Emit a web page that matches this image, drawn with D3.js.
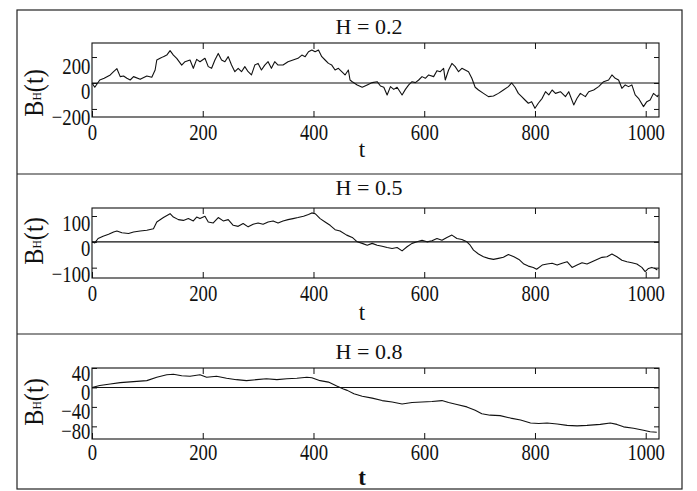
<!DOCTYPE html>
<html>
<head>
<meta charset="utf-8">
<script src="https://cdn.jsdelivr.net/npm/d3@7"></script>
<style>
  body { margin: 0; background: #fff; }
  text { font-family: "Liberation Serif", "Times New Roman", serif; fill: #111; }
</style>
</head>
<body>
<svg id="chart" width="697" height="491"></svg>
<script>
// ===== data =====
const xTicks = [0, 200, 400, 600, 800, 1000];
const titles = ['H = 0.2', 'H = 0.5', 'H = 0.8'];

// H = 0.2  [t, B_H(t)]
const seriesH02 = [[0,0],[5,-33],[14,23],[22,36],[33,62],[39,87],[45,110],[51,49],[57,54],[63,36],[69,23],[75,49],[87,28],[99,54],[108,44],[114,100],[117,177],[123,190],[129,203],[135,215],[141,249],[147,215],[153,190],[162,138],[168,164],[177,177],[183,113],[189,182],[195,164],[204,190],[210,126],[216,113],[222,177],[228,228],[234,177],[240,164],[246,203],[252,138],[258,87],[264,113],[270,87],[276,126],[282,87],[288,62],[294,138],[300,151],[306,100],[312,138],[318,164],[324,113],[330,164],[336,138],[345,138],[354,164],[363,177],[372,190],[379,215],[385,203],[391,241],[397,254],[403,241],[409,254],[415,203],[421,177],[427,151],[433,138],[439,100],[445,113],[451,87],[457,62],[463,100],[466,23],[470,10],[479,-15],[488,-33],[497,-15],[506,3],[515,10],[521,-23],[527,-33],[533,-92],[539,-28],[545,-49],[551,-33],[560,-92],[566,-49],[572,-15],[578,10],[584,3],[590,23],[596,49],[602,36],[608,62],[617,49],[623,95],[629,87],[635,113],[638,23],[644,100],[650,151],[656,126],[662,87],[668,113],[674,100],[680,87],[686,36],[692,-33],[698,-54],[707,-80],[716,-105],[725,-100],[734,-80],[743,-54],[752,-28],[758,0],[764,-33],[770,-80],[776,-105],[782,-131],[788,-156],[794,-144],[800,-195],[806,-156],[813,-118],[819,-67],[825,-92],[831,-54],[837,-80],[846,-67],[855,-105],[861,-67],[870,-169],[876,-118],[882,-80],[891,-105],[897,-67],[906,-54],[915,-28],[924,10],[933,23],[939,62],[945,36],[951,23],[957,-41],[963,-15],[969,-28],[975,-15],[981,-92],[987,-118],[996,-182],[1002,-144],[1008,-131],[1014,-80],[1021,-105],[1023,-90]];

// H = 0.5
const seriesH05 = [[0,0],[5,-4],[11,13],[20,22],[30,29],[39,38],[45,42],[54,35],[66,32],[75,38],[87,42],[99,45],[111,51],[117,77],[129,94],[141,109],[147,96],[156,86],[165,83],[174,90],[183,81],[189,96],[195,90],[204,99],[210,77],[219,73],[228,94],[237,81],[246,86],[255,64],[264,60],[273,71],[282,58],[291,68],[300,73],[309,68],[318,77],[327,81],[336,73],[345,81],[354,86],[363,90],[372,94],[382,99],[391,106],[397,112],[403,109],[412,90],[421,77],[430,64],[439,47],[448,42],[460,26],[470,17],[479,0],[488,-6],[497,-13],[506,-6],[515,-13],[524,-17],[533,-22],[542,-26],[551,-22],[560,-35],[569,-19],[578,-6],[587,0],[596,6],[605,0],[614,4],[623,13],[632,6],[641,17],[650,26],[659,13],[668,9],[677,0],[683,-13],[689,-32],[698,-47],[707,-58],[716,-64],[725,-68],[734,-64],[743,-60],[752,-49],[762,-58],[771,-68],[780,-86],[788,-94],[797,-99],[803,-106],[813,-90],[822,-86],[831,-83],[840,-90],[849,-83],[858,-77],[867,-99],[876,-90],[885,-81],[894,-86],[903,-77],[912,-68],[921,-60],[930,-58],[939,-47],[948,-58],[957,-71],[966,-77],[975,-81],[984,-86],[993,-99],[999,-115],[1005,-103],[1011,-99],[1017,-103],[1021,-109]];

// H = 0.8
const seriesH08 = [[0,0],[14,4],[33,7],[51,10],[75,12],[99,14],[117,21],[135,26],[147,27],[162,24],[177,23],[195,26],[207,21],[225,23],[243,19],[261,16],[279,14],[297,16],[315,18],[334,16],[352,18],[370,19],[388,21],[397,20],[412,14],[427,11],[442,3],[454,-3],[461,-6],[473,-13],[488,-18],[506,-22],[524,-27],[542,-30],[560,-34],[578,-31],[596,-30],[614,-29],[632,-27],[644,-31],[659,-35],[677,-40],[692,-47],[704,-54],[719,-57],[737,-58],[756,-63],[774,-67],[792,-73],[807,-74],[822,-73],[840,-75],[858,-78],[876,-79],[894,-78],[918,-76],[936,-73],[948,-76],[960,-81],[978,-84],[996,-88],[1008,-91],[1020,-92]];

const yTicksH02 = [-200, 0, 200];
const yTicksH05 = [-100, 0, 100];
const yTicksH08 = [-80, -40, 0, 40];

// ===== layout =====
const svg = d3.select('#chart');
const plotLeft = 92, plotRight = 659;
const squeeze = 'scale(0.78,1)';
const ink = '#111';

const panels = [
  { title: titles[0], data: seriesH02, yTicks: yTicksH02, yDomain: [-262, 308],
    top: 43, bottom: 117, titleY: 34, labelY: 93, tY: 157, yLabDy: 16, xPad: 6, tBold: false },
  { title: titles[1], data: seriesH05, yTicks: yTicksH05, yDomain: [-140, 131],
    top: 208, bottom: 278, titleY: 195, labelY: 241, tY: 320, yLabDy: 14, xPad: 6, tBold: false },
  { title: titles[2], data: seriesH08, yTicks: yTicksH08, yDomain: [-106, 40],
    top: 368, bottom: 439, titleY: 359, labelY: 402, tY: 485, yLabDy: 12, xPad: 4, tBold: true }
];

// outer frame and dividers
svg.append('rect')
  .attr('x', 17).attr('y', 10).attr('width', 665).attr('height', 479)
  .attr('fill', 'none').attr('stroke', '#222').attr('stroke-width', 1.2);
[174, 334].forEach(yy => {
  svg.append('line')
    .attr('x1', 17).attr('x2', 682).attr('y1', yy).attr('y2', yy)
    .attr('stroke', '#222').attr('stroke-width', 1.2);
});

const x = d3.scaleLinear().domain([0, 1024]).range([plotLeft, plotRight]);

panels.forEach(p => {
  const y = d3.scaleLinear().domain(p.yDomain).range([p.bottom, p.top]);
  const g = svg.append('g');

  // title
  g.append('text')
    .attr('x', 369).attr('y', p.titleY)
    .attr('text-anchor', 'middle')
    .attr('font-size', 22)
    .text(p.title);

  // zero line
  g.append('line')
    .attr('x1', plotLeft).attr('x2', plotRight)
    .attr('y1', y(0)).attr('y2', y(0))
    .attr('stroke', ink).attr('stroke-width', 1.1);

  // curve
  const line = d3.line().x(d => x(d[0])).y(d => y(d[1]));
  g.append('path')
    .datum(p.data)
    .attr('d', line)
    .attr('fill', 'none')
    .attr('stroke', ink)
    .attr('stroke-width', 1.1)
    .attr('stroke-linejoin', 'round');

  // frame
  g.append('rect')
    .attr('x', plotLeft).attr('y', p.top)
    .attr('width', plotRight - plotLeft).attr('height', p.bottom - p.top)
    .attr('fill', 'none').attr('stroke', ink).attr('stroke-width', 1.1);

  // bottom axis, ticks pointing inward
  const xb = g.append('g')
    .attr('transform', `translate(0,${p.bottom})`)
    .call(d3.axisBottom(x).tickValues(xTicks).tickSize(-6).tickPadding(p.xPad).tickFormat(d3.format('d')));
  xb.select('.domain').remove();
  xb.selectAll('text').attr('font-size', 24).attr('font-family', '"Liberation Serif", serif').attr('fill', ink)
    .attr('transform', squeeze);
  xb.selectAll('line').attr('stroke', ink);

  // top axis ticks
  const xt = g.append('g')
    .attr('transform', `translate(0,${p.top})`)
    .call(d3.axisTop(x).tickValues(xTicks.slice(1)).tickSize(-6).tickFormat(''));
  xt.select('.domain').remove();
  xt.selectAll('line').attr('stroke', ink);

  // left axis
  const yl = g.append('g')
    .attr('transform', `translate(${plotLeft},0)`)
    .call(d3.axisLeft(y).tickValues(p.yTicks).tickSize(-5).tickPadding(2).tickFormat(d3.format('d')));
  yl.select('.domain').remove();
  yl.selectAll('text').attr('font-size', 24).attr('font-family', '"Liberation Serif", serif').attr('fill', ink)
    .attr('dy', p.yLabDy + 'px').attr('transform', squeeze);
  yl.selectAll('line').attr('stroke', ink);

  // right axis ticks
  const yr = g.append('g')
    .attr('transform', `translate(${plotRight},0)`)
    .call(d3.axisRight(y).tickValues(p.yTicks).tickSize(-5).tickFormat(''));
  yr.select('.domain').remove();
  yr.selectAll('line').attr('stroke', ink);

  // y label B_H(t)
  const yLab = g.append('text')
    .attr('transform', `translate(43,${p.labelY}) rotate(-90) scale(0.9,1)`)
    .attr('text-anchor', 'middle')
    .attr('font-size', 27);
  yLab.append('tspan').text('B');
  yLab.append('tspan').attr('font-size', 13).attr('dy', -2).text('H');
  yLab.append('tspan').attr('dy', 2).text('(t)');

  // x label t
  g.append('text')
    .attr('x', 362).attr('y', p.tY)
    .attr('text-anchor', 'middle')
    .attr('font-size', 23)
    .attr('font-weight', p.tBold ? 'bold' : 'normal')
    .text('t');
});
</script>
</body>
</html>
